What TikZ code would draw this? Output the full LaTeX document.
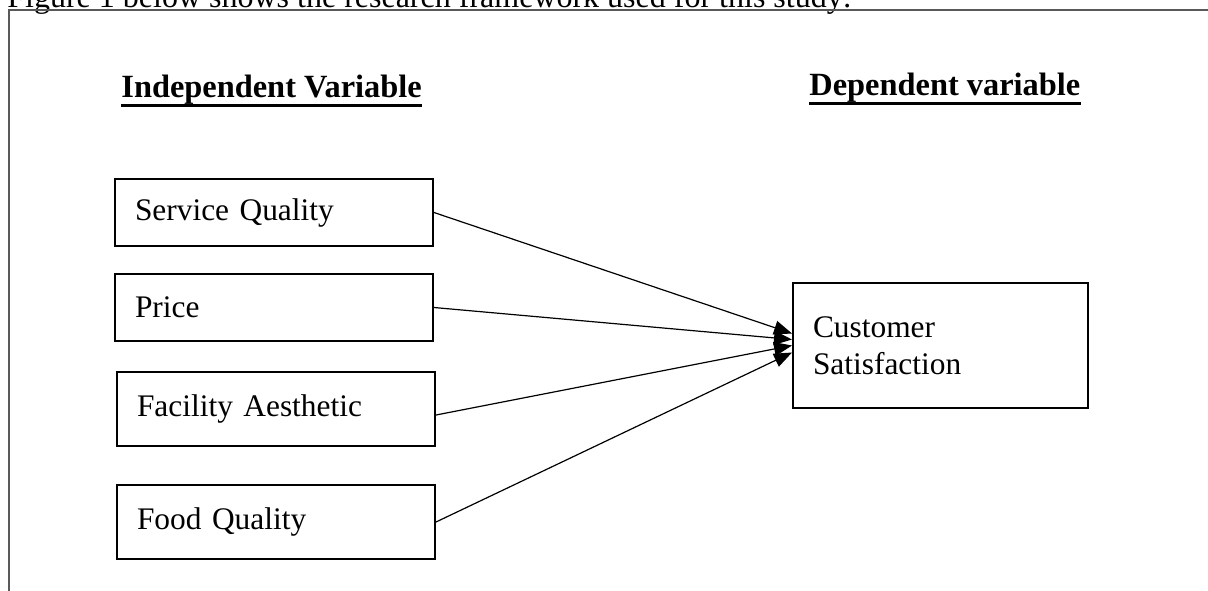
\documentclass[tikz,border=0pt]{standalone}
\usepackage{fontspec}
\setmainfont{Liberation Serif}
\usetikzlibrary{arrows.meta}

\begin{document}
\begin{tikzpicture}[x=0.5pt,y=-0.5pt]
\useasboundingbox (0,0) rectangle (1208,590);

% lead-in sentence and the open frame around the figure
\node[anchor=base west,inner sep=0,font=\fontsize{16}{19}\selectfont] (lead) at (7,7)
  {Figure 1 below shows the research framework used for this study:};
\draw[line width=1.3pt,black!65] (9,640) -- (9,10) -- (1260,10);

\begin{scope}[every node/.style={anchor=base west,inner sep=0,font=\fontsize{16.2}{19}\selectfont\bfseries}]
    \node (iv) at (121,97) {Independent Variable};
    \node (dv) at (809,95) {Dependent variable};
\end{scope}
\draw[line width=1.1pt] ([yshift=-0.6pt]iv.south west) -- ([yshift=-0.6pt]iv.south east);
\draw[line width=1.1pt] ([yshift=-0.6pt]dv.south west) -- ([yshift=-0.6pt]dv.south east);

\begin{scope}[every node/.style={draw,line width=1pt,anchor=west,inner xsep=10pt,
              text width=139pt,align=left,font=\fontsize{15.7}{18.5}\selectfont}]
    \node[minimum height=33.5pt] (sq) at (114,212.5) {Service Quality};
    \node[minimum height=33.5pt] (pr) at (114,307.5) {Price};
    \node[minimum height=37pt] (fa) at (116,409) {Facility Aesthetic};
    \node[minimum height=37pt] (fq) at (116,522) {Food Quality};
    \node[minimum height=62.5pt,text width=127.5pt] (cs) at (792,345.5) {Customer\\Satisfaction};
\end{scope}

\begin{scope}[>={Triangle[length=9pt,width=7pt]},
              every edge/.style={draw,line width=0.6pt}]
    \path [->] (sq.east) edge ([yshift=6pt]cs.west);
    \path [->] (pr.east) edge ([yshift=3pt]cs.west);
    \path [->] ([yshift=-3pt]fa.east) edge ([yshift=0pt]cs.west);
    \path [->] (fq.east) edge ([yshift=-3.5pt]cs.west);
\end{scope}
\end{tikzpicture}
\end{document}
